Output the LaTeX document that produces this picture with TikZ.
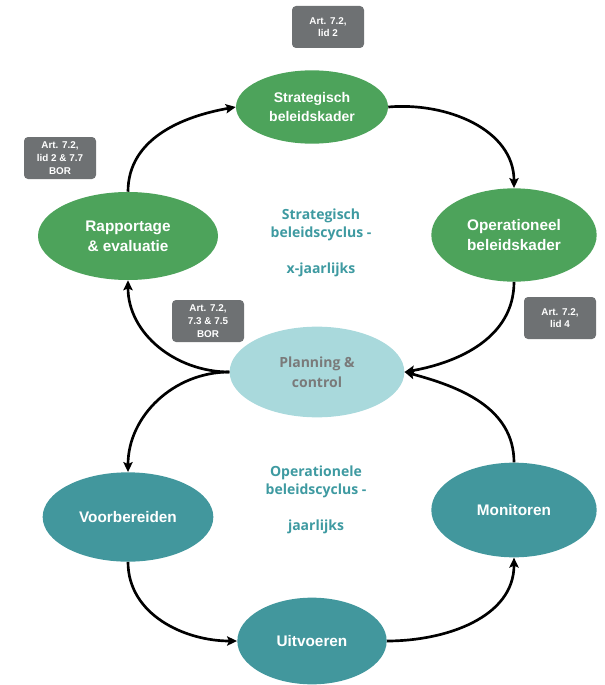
\documentclass[tikz,border=0pt]{standalone}
\usepackage{fontspec}
\setmainfont{Liberation Sans}
\newfontfamily\softfont{Open Sans}
\usetikzlibrary{shapes.geometric,arrows.meta}
\definecolor{cgreen}{HTML}{4DA35B}
\definecolor{cteal}{HTML}{42979D}
\definecolor{clight}{HTML}{A9D9DC}
\definecolor{cgrey}{HTML}{6E7173}
\definecolor{ctext}{HTML}{3E9AA1}
\definecolor{cpc}{HTML}{7A7A7A}
\begin{document}
\begin{tikzpicture}[x=0.75pt,y=-0.75pt]
\tikzstyle{every node}+=[inner sep=0pt, align=center]
\tikzstyle{phase}=[ellipse, text=white, font=\bfseries\fontsize{11.5}{15}\selectfont]
\tikzstyle{artbox}=[rectangle, rounded corners=3pt, fill=cgrey, text=white, minimum width=54pt, minimum height=31.5pt, font=\bfseries\fontsize{7.4}{9.5}\selectfont]
\tikzstyle{cycle}=[text=ctext, font=\softfont\bfseries\fontsize{10.5}{14}\selectfont]
\tikzstyle{flow}=[line width=2pt, -{Stealth[length=7.5pt,width=7pt,inset=1.5pt]}]
\useasboundingbox (0,0) rectangle (604,685);
\node [phase, fill=cgreen, font=\bfseries\fontsize{10.5}{14.5}\selectfont, minimum width=114pt, minimum height=55pt] (str) at (312,107) {Strategisch\\beleidskader};
\node [phase, fill=cgreen, minimum width=135pt, minimum height=66pt] (rap) at (128,236) {Rapportage\\\& evaluatie};
\node [phase, fill=cgreen, minimum width=124pt, minimum height=70pt] (op) at (514,235) {Operationeel\\beleidskader};
\node [phase, fill=clight, text=cpc, font=\softfont\bfseries\fontsize{10.5}{15}\selectfont, minimum width=131pt, minimum height=68pt] (pc) at (317,372) {Planning \&\\control};
\node [phase, fill=cteal, minimum width=128pt, minimum height=67pt] (voo) at (128,517) {Voorbereiden};
\node [phase, fill=cteal, minimum width=124pt, minimum height=71pt] (mon) at (514,510) {Monitoren};
\node [phase, fill=cteal, minimum width=112pt, minimum height=65pt] (uit) at (312,641) {Uitvoeren};
\node [artbox] (art1) at (328,27) {Art. 7.2,\\lid 2};
\node [artbox] (art2) at (60,158) {Art. 7.2,\\lid 2 \& 7.7\\BOR};
\node [artbox] (art3) at (208,321) {Art. 7.2,\\7.3 \& 7.5\\BOR};
\node [artbox] (art4) at (560,318) {Art. 7.2,\\lid 4};
\node [cycle] (sc) at (321,243) {Strategisch\\beleidscyclus -\\[13pt]x-jaarlijks};
\node [cycle] (oc) at (316,500) {Operationele\\beleidscyclus -\\[13pt]jaarlijks};
\draw [flow] (rap.north) to [out=90, in=190] (str.west);
\draw [flow] (str.east) to [out=5, in=90] (op.north);
\draw [flow] (op.south) to [out=-90, in=10] (pc.east);
\draw [flow] (mon.north) to [out=90, in=-15] (pc.east);
\draw [flow] (pc.west) to [out=180, in=-90] (rap.south);
\draw [flow] (pc.west) to [out=180, in=90] (voo.north);
\draw [flow] (voo.south) to [out=-90, in=180] (uit.west);
\draw [flow] (uit.east) to [out=0, in=-90] (mon.south);
\end{tikzpicture}
\end{document}
